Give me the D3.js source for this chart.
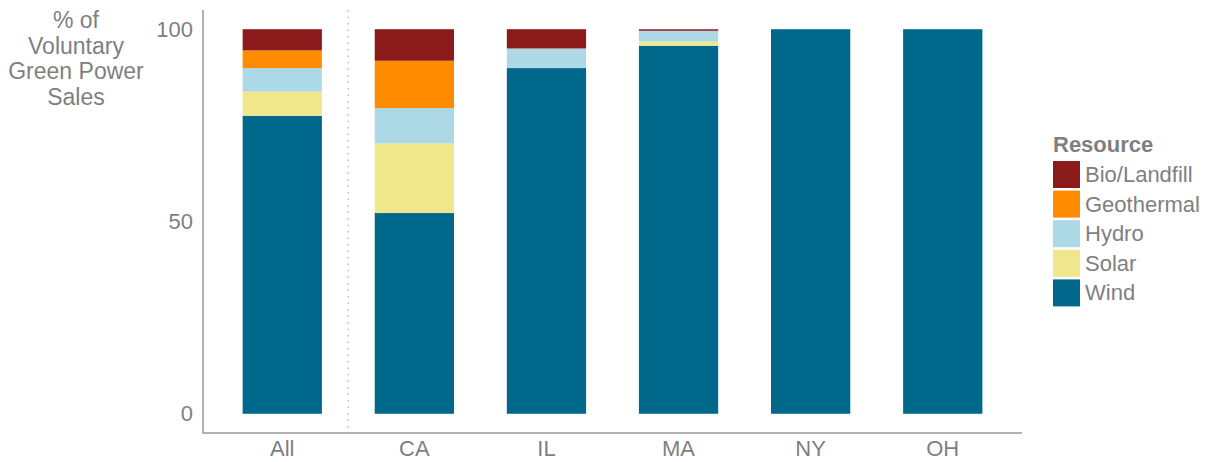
<!DOCTYPE html>
<html>
<head>
<meta charset="utf-8">
<script src="https://cdn.jsdelivr.net/npm/d3@7"></script>
<style>
  body { margin: 0; background: #fff; }
  text { font-family: "Liberation Sans", Arial, sans-serif; fill: #7f7f7f; }
</style>
</head>
<body>
<div id="chart"></div>
<script>
// categories and series (percent of sales)
const regions = ["All", "CA", "IL", "MA", "NY", "OH"];
const resources = ["Wind", "Solar", "Hydro", "Geothermal", "Bio/Landfill"];
const wind       = [77.5, 52.2, 89.9, 95.7, 100, 100];
const solar      = [6.3, 18.1, 0, 1.1, 0, 0];
const hydro      = [6.1, 9.2, 5.1, 2.8, 0, 0];
const geothermal = [4.6, 12.3, 0, 0, 0, 0];
const bio        = [5.5, 8.2, 5.0, 0.4, 0, 0];
const yTicks = [0, 50, 100];

const colors = {
  "Wind": "#00688b",
  "Solar": "#f0e68c",
  "Hydro": "#add8e6",
  "Geothermal": "#ff8c00",
  "Bio/Landfill": "#8b1a1a"
};

const data = regions.map((r, i) => ({
  region: r,
  "Wind": wind[i], "Solar": solar[i], "Hydro": hydro[i],
  "Geothermal": geothermal[i], "Bio/Landfill": bio[i]
}));

const w = 1215, h = 462;
const plotLeft = 203, plotRight = 1022, plotTop = 10, plotBottom = 433;

const svg = d3.select("#chart").append("svg")
  .attr("width", w)
  .attr("height", h);

const xScale = d3.scaleBand()
  .domain(regions)
  .range([plotLeft, plotRight])
  .paddingInner(0.4)
  .paddingOuter(0.3);

const yScale = d3.scaleLinear()
  .domain([-5, 105])
  .range([plotBottom, plotTop]);

const stack = d3.stack().keys(resources)(data);

// divider between All and the states
const divX = (xScale("All") + xScale.bandwidth() + xScale("CA")) / 2;
svg.append("line")
  .attr("x1", divX).attr("x2", divX)
  .attr("y1", plotTop).attr("y2", plotBottom)
  .attr("stroke", "#bbbbbb")
  .attr("stroke-width", 1.5)
  .attr("stroke-dasharray", "1.5,5");

svg.append("g")
  .selectAll("g")
  .data(stack)
  .enter()
  .append("g")
    .attr("fill", d => colors[d.key])
  .selectAll("rect")
  .data(d => d)
  .enter()
  .append("rect")
    .attr("x", d => xScale(d.data.region))
    .attr("width", xScale.bandwidth())
    .attr("y", d => yScale(d[1]))
    .attr("height", d => yScale(d[0]) - yScale(d[1]));

// axes
const yAxis = d3.axisLeft(yScale).tickValues(yTicks).tickSize(0).tickPadding(10);
const gy = svg.append("g")
  .attr("transform", `translate(${plotLeft}, 0)`)
  .call(yAxis);
gy.select(".domain").remove();
gy.selectAll("text").style("font-size", "22px").attr("fill", "#7f7f7f");

const xAxis = d3.axisBottom(xScale).tickSize(0).tickPadding(7);
const gx = svg.append("g")
  .attr("transform", `translate(0, ${plotBottom})`)
  .call(xAxis);
gx.select(".domain").remove();
gx.selectAll("text").style("font-size", "22px").attr("fill", "#7f7f7f");

svg.append("path")
  .attr("d", `M${plotLeft},${plotTop}V${plotBottom}H${plotRight}`)
  .attr("fill", "none")
  .attr("stroke", "#999999")
  .attr("stroke-width", 1.5);

// y title
const yTitle = ["% of", "Voluntary", "Green Power", "Sales"];
svg.append("text")
  .attr("text-anchor", "middle")
  .style("font-size", "23px")
  .selectAll("tspan")
  .data(yTitle)
  .enter()
  .append("tspan")
    .attr("x", 76)
    .attr("y", (d, i) => 28 + i * 25.5)
    .text(d => d);

// legend
const legend = svg.append("g").attr("transform", "translate(1053, 0)");
legend.append("text")
  .attr("x", 0).attr("y", 152)
  .style("font-size", "22px")
  .style("font-weight", "bold")
  .attr("fill", "#777777")
  .text("Resource");

const legendKeys = resources.slice().reverse();
const item = legend.selectAll("g.item")
  .data(legendKeys)
  .enter()
  .append("g")
    .attr("class", "item")
    .attr("transform", (d, i) => `translate(0, ${161 + i * 29.6})`);
item.append("rect")
  .attr("width", 27).attr("height", 27)
  .attr("fill", d => colors[d]);
item.append("text")
  .attr("x", 32).attr("y", 21)
  .style("font-size", "22px")
  .text(d => d);
</script>
</body>
</html>
